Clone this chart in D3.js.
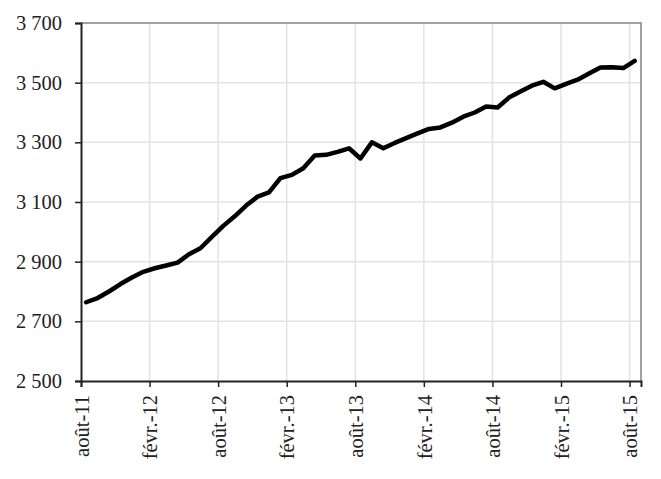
<!DOCTYPE html>
<html><head><meta charset="utf-8">
<script src="https://cdn.jsdelivr.net/npm/d3@7"></script>
<style>
html,body{margin:0;padding:0;background:#fff;}
svg{display:block;}
text{font-family:"Liberation Serif","Times New Roman",serif;fill:#222;}
</style></head>
<body>
<script>
const months = ["août-11","sept.-11","oct.-11","nov.-11","déc.-11","janv.-12","févr.-12","mars-12","avr.-12","mai-12","juin-12","juil.-12",
"août-12","sept.-12","oct.-12","nov.-12","déc.-12","janv.-13","févr.-13","mars-13","avr.-13","mai-13","juin-13","juil.-13",
"août-13","sept.-13","oct.-13","nov.-13","déc.-13","janv.-14","févr.-14","mars-14","avr.-14","mai-14","juin-14","juil.-14",
"août-14","sept.-14","oct.-14","nov.-14","déc.-14","janv.-15","févr.-15","mars-15","avr.-15","mai-15","juin-15","juil.-15","août-15"];
const values = [2764,2778,2800,2825,2847,2866,2878,2887,2897,2925,2945,2983,
3020,3052,3088,3118,3132,3180,3191,3213,3256,3258,3268,3280,
3246,3300,3280,3298,3314,3330,3345,3350,3366,3386,3400,3420,
3417,3450,3470,3490,3503,3481,3496,3510,3531,3551,3552,3549,3573];
const yTicks = [2500,2700,2900,3100,3300,3500,3700];
const xTickLabels = ["août-11","févr.-12","août-12","févr.-13","août-13","févr.-14","août-14","févr.-15","août-15"];

const W=661,H=479;
const L=81,T=23,R=641,B=381;
const svg=d3.select("body").append("svg").attr("width",W).attr("height",H);

const x=d3.scaleLinear().domain([0,49]).range([L,R]);
const y=d3.scaleLinear().domain([2500,3700]).range([B,T]);
const xTickIdx = xTickLabels.map(l=>months.indexOf(l));

// grid
svg.append("g").selectAll("line").data(yTicks.slice(1)).join("line")
  .attr("x1",L).attr("x2",R).attr("y1",d=>y(d)).attr("y2",d=>y(d))
  .attr("stroke","#e3e3e3").attr("stroke-width",1.5);
svg.append("g").selectAll("line").data(xTickIdx.slice(1)).join("line")
  .attr("y1",T).attr("y2",B).attr("x1",d=>x(d)).attr("x2",d=>x(d))
  .attr("stroke","#e3e3e3").attr("stroke-width",1.5);

// border top/right
svg.append("path").attr("d",`M${L},${T}H${R}V${B}`).attr("fill","none")
  .attr("stroke","#a0a0a0").attr("stroke-width",2);

// y axis
const ya=svg.append("g").attr("transform",`translate(${L},0)`)
  .call(d3.axisLeft(y).tickValues(yTicks).tickSize(6).tickPadding(13)
    .tickFormat(d=>d3.format(",")(d).replace(",", " ")));
ya.select(".domain").attr("stroke","#222").attr("stroke-width",2);
ya.selectAll(".tick line").attr("stroke","#222").attr("stroke-width",1.5);
ya.selectAll("text").style("font-size","20.5px").style("font-family","Liberation Serif").attr("fill","#1a1a1a");

// x axis
const xa=svg.append("g").attr("transform",`translate(0,${B})`)
  .call(d3.axisBottom(x).tickValues(xTickIdx).tickSize(6).tickFormat((d,i)=>xTickLabels[i]));
xa.select(".domain").attr("stroke","#222").attr("stroke-width",2);
xa.selectAll(".tick line").attr("stroke","#222").attr("stroke-width",1.5);
xa.selectAll("text").style("font-size","20.5px").style("font-family","Liberation Serif").attr("fill","#1a1a1a")
  .attr("transform","rotate(-90)").attr("text-anchor","end").attr("x",-14).attr("y",0).attr("dy","0.35em");

// line
const line=d3.line().x((d,i)=>x(i+0.45)).y(d=>y(d));
svg.append("path").datum(values).attr("d",line).attr("fill","none")
  .attr("stroke","#000").attr("stroke-width",4.5).attr("stroke-linejoin","round").attr("stroke-linecap","round");
</script>
</body></html>
